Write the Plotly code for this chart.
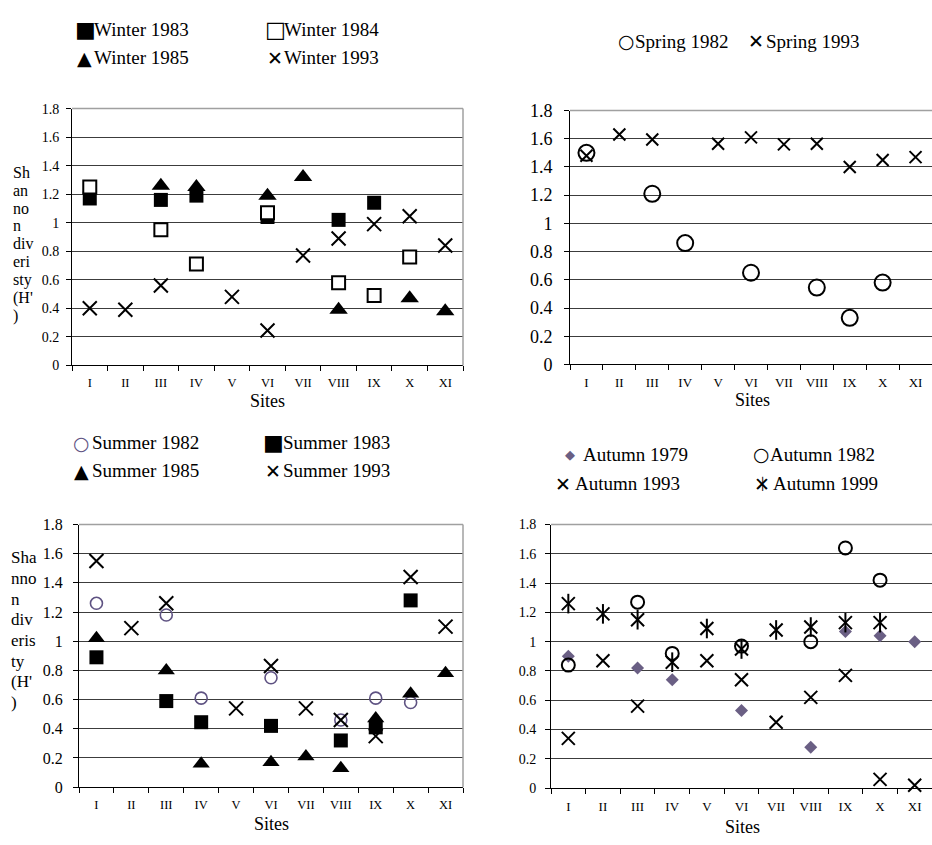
import plotly.graph_objects as go

# ---------------- data ----------------
sites = ["I", "II", "III", "IV", "V", "VI", "VII", "VIII", "IX", "X", "XI"]
site_pos = list(range(1, len(sites) + 1))

winter_1983 = [1.17, None, 1.16, 1.19, None, 1.04, None, 1.02, 1.14, None, None]
winter_1984 = [1.25, None, 0.95, 0.71, None, 1.07, None, 0.58, 0.49, 0.76, None]
winter_1985 = [None, None, 1.26, 1.25, None, 1.19, 1.32, 0.39, None, 0.47, 0.38]
winter_1993 = [0.40, 0.39, 0.56, None, 0.48, 0.245, 0.77, 0.89, 0.99, 1.045, 0.84]

spring_1982 = [1.50, None, 1.21, 0.86, None, 0.65, None, 0.545, 0.33, 0.58, None]
spring_1993 = [1.48, 1.63, 1.595, None, 1.565, 1.61, 1.56, 1.565, 1.40, 1.45, 1.47]

summer_1982 = [1.26, None, 1.18, 0.61, None, 0.75, None, 0.46, 0.61, 0.58, None]
summer_1983 = [0.89, None, 0.59, 0.445, None, 0.42, None, 0.32, 0.41, 1.28, None]
summer_1985 = [1.02, None, 0.80, 0.16, None, 0.17, 0.21, 0.13, 0.47, 0.64, 0.78]
summer_1993 = [1.55, 1.09, 1.26, None, 0.54, 0.83, 0.54, 0.46, 0.35, 1.44, 1.10]

autumn_1979 = [0.90, None, 0.82, 0.74, None, 0.53, None, 0.28, 1.07, 1.04, 1.00]
autumn_1982 = [0.84, None, 1.27, 0.92, None, 0.97, None, 1.00, 1.64, 1.42, None]
autumn_1993 = [0.34, 0.87, 0.56, None, 0.87, 0.74, 0.45, 0.62, 0.77, 0.06, 0.02]
autumn_1999 = [1.26, 1.19, 1.15, 0.86, 1.09, 0.95, 1.08, 1.10, 1.13, 1.13, None]

y_ticks = [0, 0.2, 0.4, 0.6, 0.8, 1, 1.2, 1.4, 1.6, 1.8]

# ---------------- layout helpers ----------------
W, H = 932, 845
SERIF = "Liberation Serif, Times New Roman, serif"
SYM = "DejaVu Sans, sans-serif"
PURPLE = "#5e5282"
DIAMOND = "#6a5f84"


def px_x(v):
    return v / W


def px_y(v):
    return 1 - v / H


fig = go.Figure()


def add(vals, ax, symbol, size, color="black", lw=2, fill=None, name=""):
    xs = [p for p, v in zip(site_pos, vals) if v is not None]
    ys = [v for v in vals if v is not None]
    mk = dict(symbol=symbol, size=size, color=fill if fill else color,
              line=dict(color=color, width=lw))
    fig.add_trace(go.Scatter(x=xs, y=ys, mode="markers", marker=mk, name=name,
                             xaxis="x" + ax, yaxis="y" + ax, showlegend=False,
                             cliponaxis=False))


# Winter (panel 1)
add(winter_1983, "", "square", 14, lw=0, fill="black", name="Winter 1983")
add(winter_1984, "", "square", 13, lw=2, fill="white", name="Winter 1984")
add(winter_1985, "", "triangle-up", 16, lw=0, fill="black", name="Winter 1985")
add(winter_1993, "", "x-thin-open", 14, lw=2, name="Winter 1993")
# Spring (panel 2)
add(spring_1982, "2", "circle-open", 16, lw=2, name="Spring 1982")
add(spring_1993, "2", "x-thin-open", 12, lw=2, name="Spring 1993")
# Summer (panel 3)
add(summer_1982, "3", "circle-open", 12, color=PURPLE, lw=1.6, name="Summer 1982")
add(summer_1983, "3", "square", 14, lw=0, fill="black", name="Summer 1983")
add(summer_1985, "3", "triangle-up", 15, lw=0, fill="black", name="Summer 1985")
add(summer_1993, "3", "x-thin-open", 14, lw=2, name="Summer 1993")
# Autumn (panel 4)
add(autumn_1979, "4", "diamond", 10, lw=0, fill=DIAMOND, name="Autumn 1979")
add(autumn_1982, "4", "circle-open", 13, lw=2, name="Autumn 1982")
add(autumn_1993, "4", "x-thin-open", 13, lw=2, name="Autumn 1993")
add(autumn_1999, "4", "x-thin-open", 13, lw=2, name="Autumn 1999")
add(autumn_1999, "4", "line-ns-open", 14, lw=2, name="Autumn 1999")

# panel geometry (pixels): left, right, top, bottom, ytick font, xtick font, ystandoff
panels = {
    "": (72, 463, 101, 364, 14, 12.5, 4),
    "2": (570, 932, 103, 363, 18, 13, 8),
    "3": (79, 463, 527, 796, 16, 12.5, 7),
    "4": (551, 932, 527, 797, 14, 13, 6),
}

layout = dict(
    width=W, height=H, margin=dict(l=0, r=0, t=0, b=0),
    paper_bgcolor="white", plot_bgcolor="white",
    showlegend=False, font=dict(family=SERIF, color="black"),
)
shapes = []
annotations = []
for ax, (l, r, t, b, yfs, xfs, ystand) in panels.items():
    layout["xaxis" + ax] = dict(
        domain=[px_x(l), px_x(r)], range=[0.5, 11.5], anchor="y" + ax,
        tickmode="array", tickvals=site_pos, ticktext=sites, ticks="",
        tickfont=dict(family=SERIF, size=xfs, color="black"),
        ticklabelstandoff=6,
        showgrid=False, zeroline=False, showline=True, linecolor="black", linewidth=1,
        minor=dict(tick0=0.5, dtick=1, ticks="outside", ticklen=5,
                   tickcolor="black", tickwidth=1, showgrid=False),
    )
    layout["yaxis" + ax] = dict(
        domain=[px_y(b), px_y(t)], range=[0, 1.8], anchor="x" + ax,
        tickmode="array", tickvals=y_ticks, ticks="outside", ticklen=5,
        tickcolor="black", tickwidth=1, ticklabelstandoff=ystand,
        tickfont=dict(family=SERIF, size=yfs, color="black"),
        showgrid=True, gridcolor="#3c3c3c", gridwidth=1,
        zeroline=False, showline=True, linecolor="black", linewidth=1,
    )
    xd = "x" + ax + " domain" if ax else "x domain"
    yd = "y" + ax + " domain" if ax else "y domain"
    shapes.append(dict(type="line", xref=xd, yref=yd, x0=0, x1=1, y0=1, y1=1,
                       line=dict(color="#a0a0a0", width=1.5), layer="above"))
    if r < W:
        shapes.append(dict(type="line", xref=xd, yref=yd, x0=1, x1=1, y0=0, y1=1,
                           line=dict(color="#a0a0a0", width=1.5), layer="above"))

# "Sites" axis titles
for cx, cy in [(267, 400), (752, 399), (271, 834), (742, 837)]:
    annotations.append(dict(text="Sites", x=px_x(cx), y=px_y(cy), xref="paper", yref="paper",
                            xanchor="center", yanchor="middle", showarrow=False,
                            font=dict(family=SERIF, size=18, color="black")))

# broken y-axis titles
ylab1 = ["Sh", "an", "no", "n", "div", "eri", "sty", "(H'", ")"]
for i, s in enumerate(ylab1):
    annotations.append(dict(text=s, x=px_x(11), y=px_y(166 + 18.4 * i), xref="paper", yref="paper",
                            xanchor="left", yanchor="middle", showarrow=False,
                            font=dict(family=SERIF, size=16, color="black")))
ylab3 = ["Sha", "nno", "n", "div", "eris", "ty", "(H'", ")"]
for i, s in enumerate(ylab3):
    annotations.append(dict(text=s, x=px_x(9), y=px_y(561 + 21.2 * i), xref="paper", yref="paper",
                            xanchor="left", yanchor="middle", showarrow=False,
                            font=dict(family=SERIF, size=17, color="black")))

# legends (glyph key + label)
legend_items = [
    ("■", 22, "black", 85, "Winter 1983", 92, 20),
    ("□", 22, "black", 275, "Winter 1984", 282, 20),
    ("▲", 19, "black", 84, "Winter 1985", 92, 49),
    ("✕", 19, "black", 275, "Winter 1993", 282, 49),
    ("○", 19, "black", 626, "Spring 1982", 633, 32),
    ("✕", 19, "black", 756, "Spring 1993", 764, 32),
    ("○", 19, PURPLE, 81, "Summer 1982", 90, 443),
    ("■", 22, "black", 273, "Summer 1983", 281, 443),
    ("▲", 19, "black", 81, "Summer 1985", 90, 472),
    ("✕", 19, "black", 273, "Summer 1993", 281, 472),
    ("◆", 13, DIAMOND, 570, "Autumn 1979", 581, 455),
    ("○", 19, "black", 761, "Autumn 1982", 768, 455),
    ("✕", 19, "black", 563, "Autumn 1993", 573, 485),
    ("✕", 19, "black", 762, "Autumn 1999", 771, 485),
    ("│", 12, "black", 762, "", 771, 485),
]
for g, gs, gc, gx, lab, lx, y in legend_items:
    annotations.append(dict(text=g, x=px_x(gx), y=px_y(y), xref="paper", yref="paper",
                            xanchor="center", yanchor="middle", showarrow=False,
                            font=dict(family=SYM, size=gs, color=gc)))
    if lab:
        annotations.append(dict(text=lab, x=px_x(lx), y=px_y(y), xref="paper", yref="paper",
                                xanchor="left", yanchor="middle", showarrow=False,
                                font=dict(family=SERIF, size=19, color="black")))

layout["shapes"] = shapes
layout["annotations"] = annotations
fig.update_layout(**layout)
fig.write_html("out.html", config={"displayModeBar": False},
               post_script="document.body.style.margin='0';document.body.style.overflow='hidden';")
